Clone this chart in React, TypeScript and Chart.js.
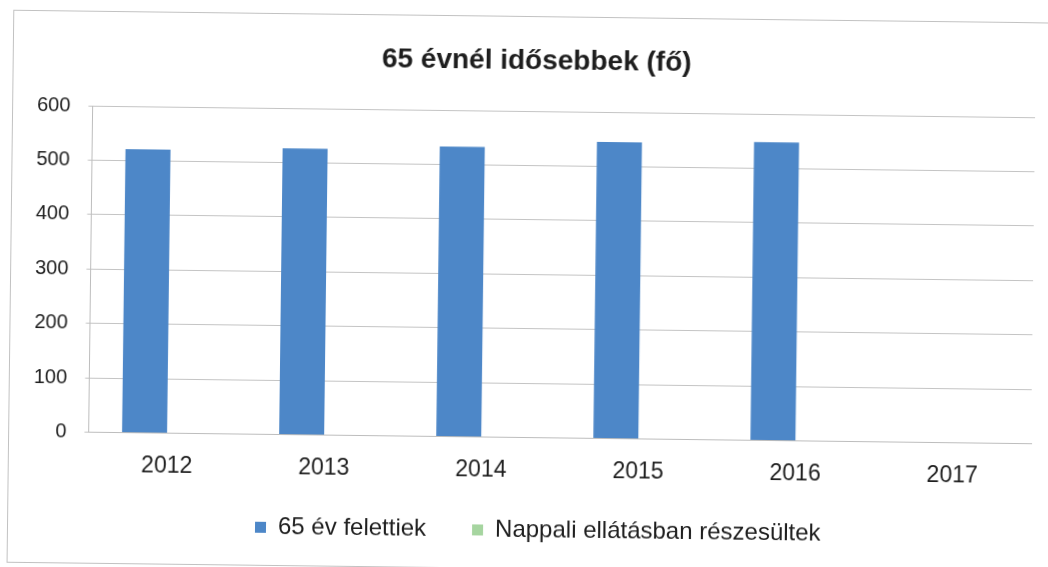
import React, { useEffect, useRef } from "react";
import { Chart, registerables } from "chart.js";

Chart.register(...registerables);

const categories = ["2012", "2013", "2014", "2015", "2016", "2017"];
const seniors = [521, 526, 533, 545, 548, null];
const dayCare = [null, null, null, null, null, null];
const seriesNames = ["65 év felettiek", "Nappali ellátásban részesültek"];
const titleText = "65 évnél idősebbek (fő)";
const yMin = 0;
const yMax = 600;
const yStep = 100;

const FONT = "'Liberation Sans', Arial, sans-serif";

// layout tweaks for the title and legend blocks
const LEGEND_TOP = 472.5;
const LEGEND_LEFT = 212;
const TITLE_SHIFT = 18;

const placeBlocks = {
  id: "placeBlocks",
  afterLayout(chart: any) {
    const l = chart.legend;
    if (l) {
      l.top = LEGEND_TOP;
      l.bottom = chart.height;
      l.height = chart.height - LEGEND_TOP;
      l.left = LEGEND_LEFT;
      l.width = l.right - l.left;
    }
    const t = chart.titleBlock;
    if (t) {
      t.left = t.left + TITLE_SHIFT;
    }
  },
};

export default function App() {
  const canvasRef = useRef<HTMLCanvasElement | null>(null);

  useEffect(() => {
    const canvas = canvasRef.current;
    if (!canvas) return;
    const chart = new Chart(canvas, {
      type: "bar",
      data: {
        labels: categories,
        datasets: [
          {
            label: seriesNames[0],
            data: seniors,
            backgroundColor: "#4d87c8",
            borderWidth: 0,
            categoryPercentage: 0.573,
            barPercentage: 1,
          },
          {
            label: seriesNames[1],
            data: dayCare,
            backgroundColor: "#a6d5a0",
            borderWidth: 0,
            categoryPercentage: 0.573,
            barPercentage: 1,
          },
        ],
      },
      options: {
        animation: false,
        responsive: false,
        maintainAspectRatio: false,
        layout: { padding: { left: 17, right: 15, top: 0, bottom: 0 } },
        plugins: {
          title: {
            display: true,
            text: titleText,
            color: "#1e1e1e",
            font: { family: FONT, size: 28, weight: "bold" },
            padding: { top: 44, bottom: 33.4 },
          },
          legend: {
            display: true,
            position: "bottom",
            align: "start",
            maxHeight: 64,
            labels: {
              color: "#1e1e1e",
              font: { family: FONT, size: 24 },
              boxWidth: 11,
              boxHeight: 11,
              padding: 46,
            },
          },
          tooltip: { enabled: false },
        },
        scales: {
          x: {
            grid: { display: false, drawTicks: false },
            border: { display: true, color: "#bdbdbd", width: 1 },
            ticks: {
              color: "#1e1e1e",
              font: { family: FONT, size: 23 },
              padding: 19,
              maxRotation: 0,
            },
          },
          y: {
            min: yMin,
            max: yMax,
            grid: { color: "#c4c4c4", lineWidth: 1, tickLength: 4 },
            border: { display: true, color: "#bdbdbd", width: 1 },
            ticks: {
              stepSize: yStep,
              color: "#1e1e1e",
              font: { family: FONT, size: 20 },
              padding: 18,
            },
          },
        },
      },
      plugins: [placeBlocks],
    });
    return () => chart.destroy();
  }, []);

  return (
    <div
      style={{
        position: "fixed",
        left: 0,
        top: 0,
        width: 1048,
        height: 567,
        overflow: "hidden",
        background: "#ffffff",
      }}
    >
      <div
        style={{
          position: "absolute",
          left: 0,
          top: 0,
          width: 1048,
          height: 567,
          transform: "rotate(0.7deg)",
          transformOrigin: "50% 50%",
        }}
      >
        <div
          style={{
            position: "absolute",
            left: 10,
            top: 16,
            width: 1100,
            height: 553,
            border: "1px solid #c2c2c2",
            boxSizing: "border-box",
          }}
        />
        <canvas
          ref={canvasRef}
          width={1048}
          height={567}
          style={{ position: "absolute", left: 0, top: 0, width: 1048, height: 567 }}
        />
      </div>
    </div>
  );
}
